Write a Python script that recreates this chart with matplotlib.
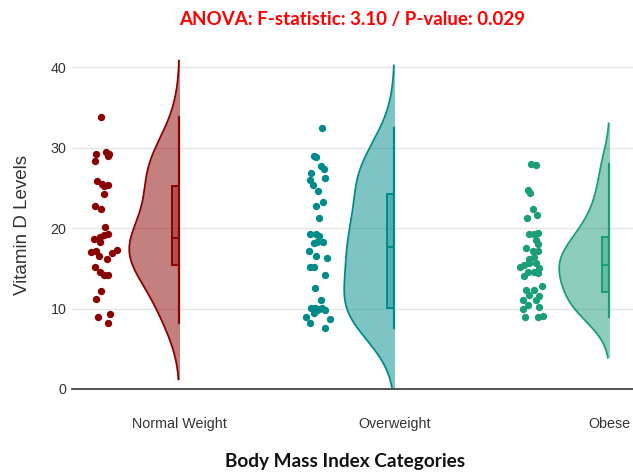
import numpy as np
import matplotlib
matplotlib.use("Agg")
import matplotlib.pyplot as plt
from matplotlib.patches import Rectangle

plt.rcParams['font.family'] = ['Liberation Sans', 'DejaVu Sans']

# data
categories = ['Normal Weight', 'Overweight', 'Obese']
colors = ['#8B0000', '#008B8B', '#1B9E77']

normal_weight = [33.8, 29.2, 28.3, 29.4, 29.2, 28.9, 25.9, 25.5, 25.2, 25.3, 24.2, 22.7,
                 22.4, 20.1, 18.6, 18.3, 18.9, 19.1, 19.3, 17.0, 17.2, 16.5, 16.9, 17.3,
                 16.1, 15.2, 14.6, 14.2, 14.2, 12.2, 11.2, 9.3, 8.9, 8.2]
overweight = [32.4, 29.0, 28.8, 27.7, 27.3, 26.9, 26.0, 25.3, 26.2, 24.6, 23.2, 22.8,
              21.2, 19.3, 19.3, 19.0, 18.3, 18.2, 18.3, 17.2, 16.5, 16.3, 15.2, 15.2,
              14.2, 12.5, 11.1, 10.1, 10.1, 10.0, 10.1, 9.5, 9.8, 9.8, 8.9, 8.2, 8.7, 7.6]
obese = [28.0, 27.8, 24.7, 24.3, 22.4, 21.3, 21.6, 19.3, 19.3, 19.4, 18.5, 17.5, 18.0,
         17.2, 17.2, 16.2, 16.4, 15.2, 15.4, 15.6, 15.7, 15.0, 14.6, 14.6, 14.1, 14.4,
         12.8, 12.3, 12.3, 11.7, 11.5, 11.1, 11.1, 10.4, 10.2, 10.0, 9.0, 9.1, 8.9]

# horizontal jitter of the points (pixels)
jitter_normal = [-1, -6, -7, 4, 7, 6, -5, 0, 2, 6, 2, -7, -1, 3, -8, -2, -2, 2, 6, -11,
                 -6, -3, 10, 15, 5, -7, -2, 2, 6, -1, -6, 8, -4, 6]
jitter_over = [5, -3, -1, 4, 7, -6, -7, -4, 8, 1, 6, -1, 2, -7, -1, 2, 6, -3, 0, -8,
               -1, 10, -7, -3, 8, -2, 4, -6, -2, 2, 5, -3, 0, 8, -11, -7, 13, 8]
jitter_obese = [-1, 4, -4, -2, 1, -5, 5, -3, 2, 6, 4, -6, 6, 1, 6, -3, 2, -12, -8, -3,
                4, 7, -4, 2, -8, 6, 10, -6, 2, -3, 7, -9, 4, -4, 7, -9, 6, 11, -7]

# kde bandwidths, judged from how far each violin runs past its data
bandwidths = [3.5, 3.9, 2.5]

groups = [normal_weight, overweight, obese]
jitters = [jitter_normal, jitter_over, jitter_obese]

px_per_unit = 214.0
point_offset = -77 / px_per_unit
half_width = 50 / px_per_unit
box_w = 7 / px_per_unit


def kde(vals, bw):
    v = np.array(vals)
    ys = np.linspace(max(v.min() - 2 * bw, 0), v.max() + 2 * bw, 300)
    d = np.exp(-0.5 * ((ys[:, None] - v[None, :]) / bw) ** 2).sum(1)
    return ys, d / d.max()


fig = plt.figure(figsize=(6.33, 4.72), dpi=100)
ax = fig.add_axes([72 / 633, 83 / 472, 1 - 72 / 633, 338 / 472])

for i, (vals, jit, c, bw) in enumerate(zip(groups, jitters, colors, bandwidths)):
    ys, d = kde(vals, bw)
    ax.fill_betweenx(ys, i - d * half_width, i, color=c, alpha=0.5, lw=0)
    ax.plot(i - d * half_width, ys, color=c, lw=1.3)
    q1, med, q3 = np.percentile(vals, [25, 50, 75])
    ax.plot([i, i], [min(vals), max(vals)], color=c, lw=1.6)
    ax.add_patch(Rectangle((i - box_w, q1), box_w, q3 - q1, facecolor=c, alpha=0.35, lw=0))
    ax.add_patch(Rectangle((i - box_w, q1), box_w, q3 - q1, fill=False, edgecolor=c, lw=1.4))
    ax.plot([i - box_w, i], [med, med], color=c, lw=1.4)
    xs = i + point_offset + np.array(jit) / px_per_unit
    ax.scatter(xs, vals, s=28, color=c, lw=0, zorder=3)

ax.set_xlim(-0.5, 2 + (633 - 609.5) / px_per_unit)
ax.set_ylim(0, 42)
ax.set_yticks([0, 10, 20, 30, 40])
ax.set_xticks(range(3))
ax.set_xticklabels(categories)
ax.tick_params(axis='both', length=0, labelsize=10.3, colors='#333333')
ax.tick_params(axis='y', pad=4)
ax.tick_params(axis='x', pad=20)
ax.grid(axis='y', color='#e6e6e6', lw=1)
ax.set_axisbelow(True)
for s in ['top', 'right', 'left']:
    ax.spines[s].set_visible(False)
ax.spines['bottom'].set_color('#444444')
ax.spines['bottom'].set_linewidth(1.3)

fig.text(23 / 633, 1 - 225 / 472, 'Vitamin D Levels', rotation=90, fontsize=13.5,
         color='#333333', ha='center', va='center')
fig.text(352 / 633, 1 - 20 / 472, 'ANOVA: F-statistic: 3.10 / P-value: 0.029',
         family='Lato', fontweight='bold', fontsize=13.5, color='#ff0000',
         ha='center', va='center')
fig.text(345 / 633, 1 - 461 / 472, 'Body Mass Index Categories', family='Lato',
         fontweight='bold', fontsize=13.7, color='#111111', ha='center', va='center')

fig.savefig('out.png', dpi=100)
